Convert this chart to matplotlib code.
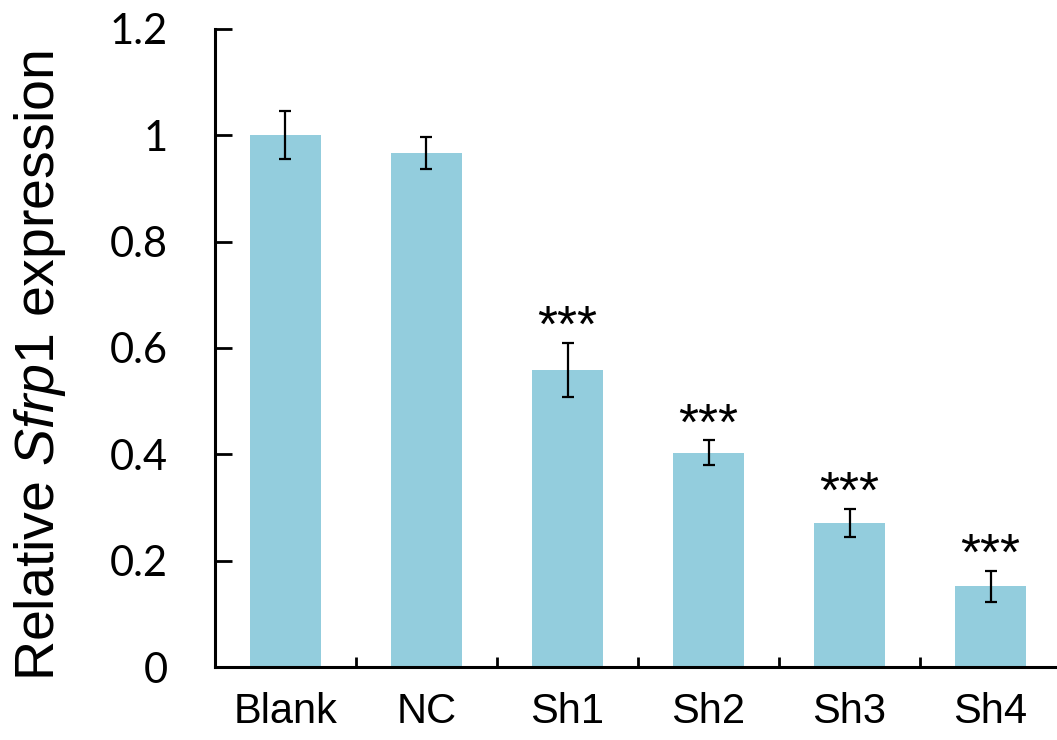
import numpy as np
import matplotlib.pyplot as plt

plt.rcParams['mathtext.fontset'] = 'custom'
plt.rcParams['mathtext.rm'] = 'Liberation Sans'
plt.rcParams['mathtext.it'] = 'Liberation Sans:italic'

groups = ['Blank', 'NC', 'Sh1', 'Sh2', 'Sh3', 'Sh4']
means = [1.000, 0.966, 0.558, 0.403, 0.271, 0.152]
errs = [0.045, 0.030, 0.051, 0.023, 0.027, 0.029]
stars = ['', '', '***', '***', '***', '***']

fig = plt.figure(figsize=(10.57, 7.4), dpi=100)
ax = fig.add_axes([0.2034, 0.0986, 0.8004, 0.8624])

x = np.arange(len(groups))
ax.bar(x, means, width=0.5, color='#93CDDD', zorder=1)
ax.errorbar(x, means, yerr=errs, fmt='none', ecolor='black',
            elinewidth=1.6, capsize=4.5, capthick=1.6, zorder=2)

for xi, m, e, s in zip(x, means, errs, stars):
    if s:
        ax.text(xi, m + e + 0.002, s, ha='center', va='baseline',
                fontsize=37, family='Liberation Sans')

ax.set_xlim(-0.5, 5.5)
ax.set_ylim(0, 1.2)

# boundary ticks (between bars), labels on centres
ax.set_xticks(np.arange(0.5, 5.5, 1.0))
ax.set_xticklabels([])
ax.set_xticks(x, minor=True)
ax.set_xticklabels(groups, minor=True, fontsize=30, family='Liberation Sans')
ax.tick_params(axis='x', which='major', direction='in', length=7, width=2)
ax.tick_params(axis='x', which='minor', length=0, pad=18)

ax.set_yticks([0, 0.2, 0.4, 0.6, 0.8, 1.0, 1.2])
ax.set_yticklabels(['0', '0.2', '0.4', '0.6', '0.8', '1', '1.2'],
                   fontsize=30, family='Lato')
ax.tick_params(axis='y', direction='in', length=12, width=2, pad=34)

for side in ['top', 'right']:
    ax.spines[side].set_visible(False)
for side in ['left', 'bottom']:
    ax.spines[side].set_linewidth(2.2)

ax.set_ylabel('Relative $\\mathit{Sfrp1}$ expression', fontsize=40,
              family='Liberation Sans')
ax.yaxis.set_label_coords(-0.174, 0.472)

fig.savefig('out.png', dpi=100)
